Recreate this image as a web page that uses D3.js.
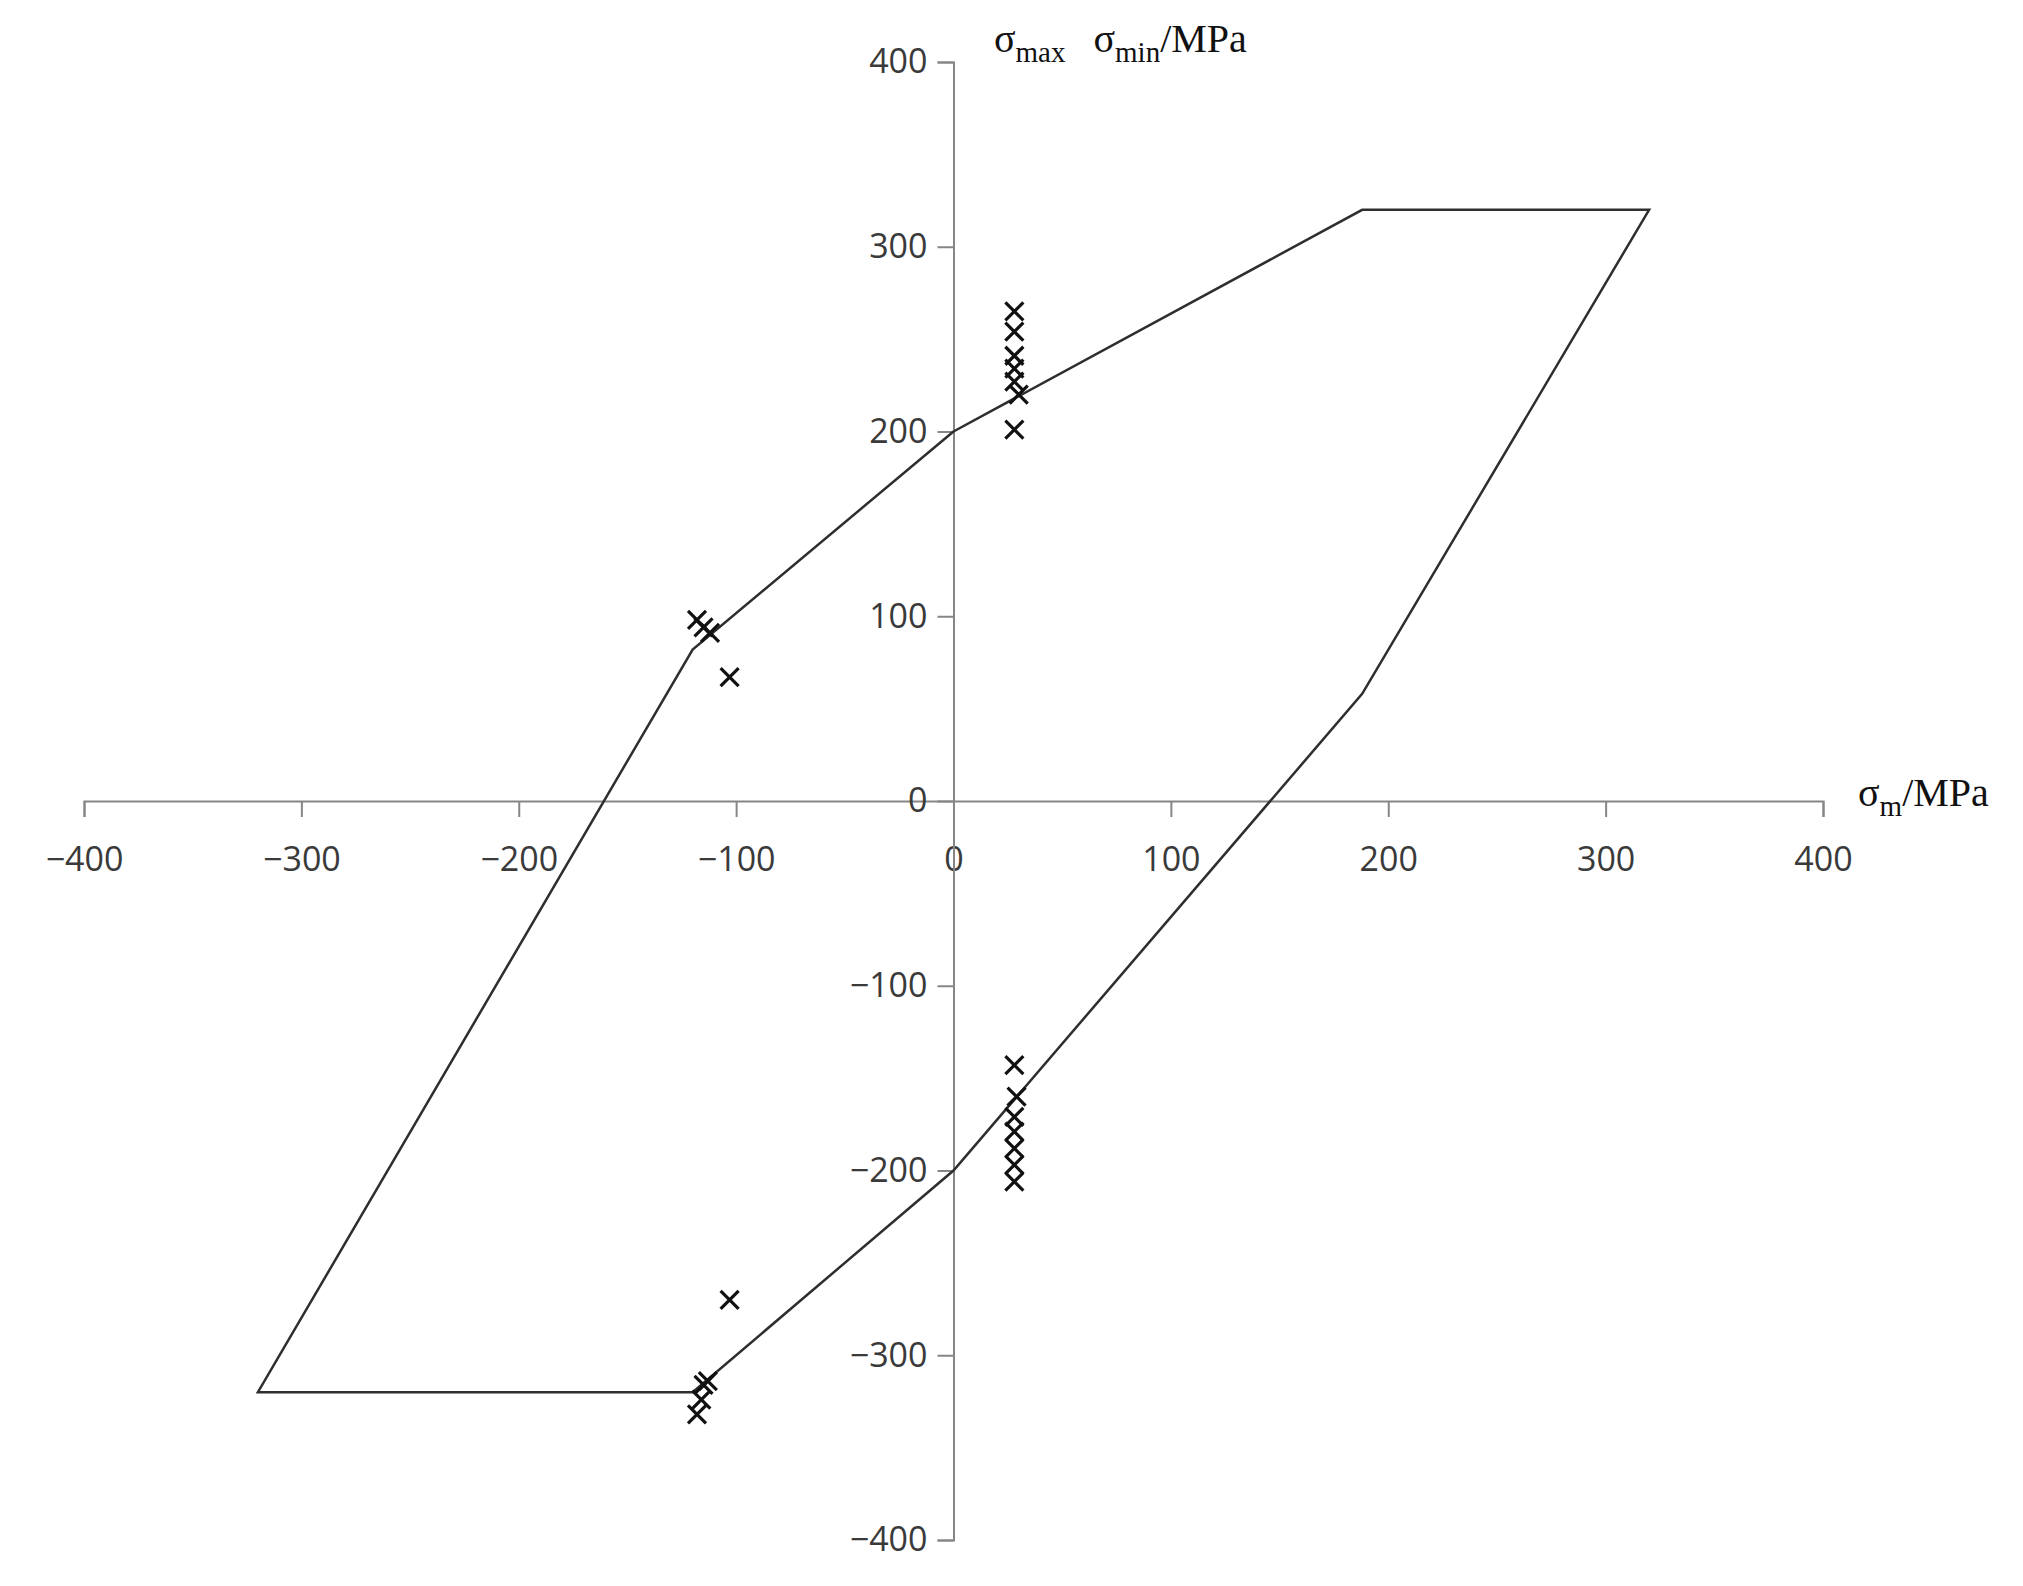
<!DOCTYPE html>
<html>
<head>
<meta charset="utf-8">
<script src="https://cdn.jsdelivr.net/npm/d3@7"></script>
<style>
	body { margin: 0; background: white; }
	svg { display: block; }
</style>
</head>
<body>
<svg></svg>
<script>
// boundary of the limit diagram, [sigma_m, sigma_max/min]
var boundaryX = [0, 188, 320, 188, 0, -120, -320, -120, 0];
var boundaryY = [200, 320, 320, 58, -200, -320, -320, 82, 200];

// test points (upper = sigma_max, lower = sigma_min)
var pointsX = [28, 28, 28, 28, 28, 30, 28,
	28, 29, 28, 28, 28, 28, 28,
	-118, -115, -112, -103,
	-103, -113, -115, -116, -118];
var pointsY = [265, 254, 241, 234, 227, 220, 201,
	-143, -160, -171, -179, -188, -197, -206,
	98, 94, 91, 67,
	-270, -314, -316, -324, -332];

var tickValues = [-400, -300, -200, -100, 0, 100, 200, 300, 400];

var width = 2023, height = 1586;
var svg = d3.select("svg").attr("width", width).attr("height", height);

var x = d3.scaleLinear().domain([-400, 400]).range([84, 1823]);
var y = d3.scaleLinear().domain([-400, 400]).range([1540, 62]);

function fmt(d){ return d < 0 ? "\u2212" + Math.abs(d) : String(d); }

var axisColor = "#868686";
var labelColor = "#3a3a3a";

// x axis through y = 0
var gx = svg.append("g")
	.attr("transform", "translate(0," + y(0) + ")")
	.call(d3.axisBottom(x).tickValues(tickValues).tickSize(16).tickPadding(30).tickFormat(fmt));
// y axis through x = 0
var gy = svg.append("g")
	.attr("transform", "translate(" + x(0) + ",0)")
	.call(d3.axisLeft(y).tickValues(tickValues).tickSize(16).tickPadding(10).tickFormat(fmt));

[gx, gy].forEach(function(g){
	g.select(".domain").attr("stroke", axisColor).attr("stroke-width", 2);
	g.selectAll(".tick line").attr("stroke", axisColor).attr("stroke-width", 2);
	g.selectAll(".tick text")
		.attr("fill", labelColor)
		.attr("font-family", "Open Sans")
		.attr("font-size", 34);
});

// boundary polygon
var line = d3.line()
	.x(function(d){ return x(d[0]); })
	.y(function(d){ return y(d[1]); });
svg.append("path")
	.datum(d3.zip(boundaryX, boundaryY))
	.attr("d", line)
	.attr("fill", "none")
	.attr("stroke", "#2e2e2e")
	.attr("stroke-width", 2.5)
	.attr("stroke-linejoin", "miter");

// x markers
var s = 9;
svg.append("g").selectAll("path")
	.data(d3.zip(pointsX, pointsY))
	.enter().append("path")
	.attr("d", function(d){
		var cx = x(d[0]), cy = y(d[1]);
		return "M" + (cx - s) + "," + (cy - s) + "L" + (cx + s) + "," + (cy + s) +
			"M" + (cx - s) + "," + (cy + s) + "L" + (cx + s) + "," + (cy - s);
	})
	.attr("stroke", "#111")
	.attr("stroke-width", 3.2)
	.attr("fill", "none");

// axis titles
var yTitle = svg.append("text")
	.attr("x", 994).attr("y", 52)
	.attr("font-family", "Liberation Serif")
	.attr("font-size", 40)
	.attr("fill", "#111");
yTitle.append("tspan").text("\u03c3");
yTitle.append("tspan").text("max").attr("font-size", 29).attr("dy", 10);
yTitle.append("tspan").text("\u03c3").attr("dx", 28).attr("dy", -10);
yTitle.append("tspan").text("min").attr("font-size", 29).attr("dy", 10);
yTitle.append("tspan").text("/MPa").attr("dy", -10);

var xTitle = svg.append("text")
	.attr("x", 1858).attr("y", 806)
	.attr("font-family", "Liberation Serif")
	.attr("font-size", 40)
	.attr("fill", "#111");
xTitle.append("tspan").text("\u03c3");
xTitle.append("tspan").text("m").attr("font-size", 29).attr("dy", 10);
xTitle.append("tspan").text("/MPa").attr("dy", -10);
</script>
</body>
</html>
